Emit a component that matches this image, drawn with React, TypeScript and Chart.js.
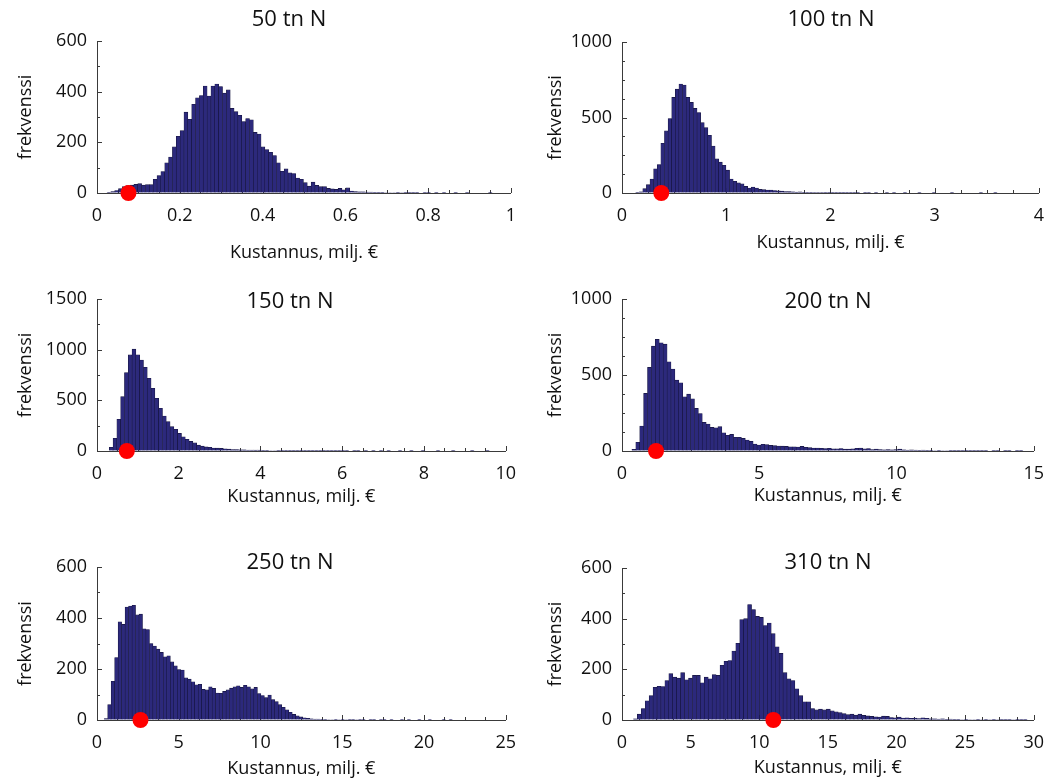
import React, { useEffect, useRef } from 'react';
import { Chart, registerables } from 'chart.js';

Chart.register(...registerables);

// ---------- data ----------
const panelTitles = ['50 tn N', '100 tn N', '150 tn N', '200 tn N', '250 tn N', '310 tn N'];
const xAxisLabel = 'Kustannus, milj. €';
const yAxisLabel = 'frekvenssi';

// histogram bins: first bin edge and bin width (100 bins each)
const binStarts = [0.024, 0.13, 0.30, 0.36, 0.44, 0.83];
const binWidths = [0.00931, 0.0347, 0.093, 0.1425, 0.213, 0.287];

const counts50 = [
  3, 6, 10, 17, 25, 29, 31, 34, 37, 31,
  33, 33, 54, 69, 85, 119, 142, 182, 224, 246,
  319, 291, 350, 376, 385, 422, 383, 422, 430, 420,
  394, 407, 334, 321, 307, 282, 294, 289, 239, 233,
  182, 171, 161, 148, 119, 86, 95, 80, 77, 59,
  54, 41, 27, 43, 30, 25, 25, 18, 16, 14,
  18, 13, 20, 8, 6, 5, 5, 4, 4, 3,
  3, 3, 2, 2, 2, 1, 2, 1, 1, 1,
  1, 0, 1, 1, 0, 1, 0, 1, 0, 0,
  1, 0, 0, 1, 0, 0, 0, 0, 0, 1,
];
const counts100 = [
  4, 8, 29, 55, 93, 160, 189, 329, 411, 493,
  633, 688, 722, 715, 633, 600, 560, 533, 466, 433,
  382, 311, 226, 204, 184, 151, 93, 78, 67, 60,
  44, 33, 40, 33, 24, 22, 20, 20, 16, 14,
  12, 10, 9, 8, 6, 7, 5, 4, 5, 3,
  3, 3, 2, 2, 2, 1, 2, 1, 1, 1,
  1, 1, 0, 1, 1, 0, 1, 0, 0, 1,
  0, 1, 0, 0, 1, 0, 0, 0, 1, 0,
  0, 0, 1, 0, 0, 0, 0, 1, 0, 0,
  0, 0, 0, 0, 0, 1, 0, 0, 0, 1,
];
const counts150 = [
  36, 125, 313, 536, 773, 948, 1005, 950, 898, 826,
  717, 619, 520, 421, 345, 290, 240, 214, 174, 140,
  115, 95, 80, 58, 48, 40, 36, 30, 28, 26,
  22, 18, 15, 14, 12, 12, 10, 9, 8, 8,
  7, 6, 5, 5, 4, 4, 3, 3, 3, 2,
  2, 3, 2, 2, 1, 2, 1, 1, 2, 1,
  1, 1, 1, 0, 1, 1, 0, 1, 0, 1,
  0, 1, 0, 1, 0, 0, 1, 0, 0, 1,
  0, 0, 1, 0, 0, 0, 1, 0, 0, 0,
  1, 0, 0, 0, 0, 1, 0, 0, 0, 1,
];
const counts200 = [
  11, 57, 164, 379, 550, 690, 734, 712, 703, 587,
  539, 466, 449, 357, 374, 344, 280, 247, 188, 177,
  155, 153, 160, 120, 103, 109, 90, 90, 83, 72,
  63, 46, 39, 44, 42, 37, 35, 33, 32, 30,
  28, 28, 26, 30, 24, 22, 20, 20, 18, 16,
  18, 14, 14, 16, 12, 12, 14, 18, 20, 14,
  16, 10, 12, 10, 8, 9, 8, 10, 12, 8,
  6, 7, 6, 5, 6, 4, 5, 3, 4, 3,
  3, 2, 2, 1, 2, 1, 1, 2, 1, 1,
  1, 0, 1, 1, 0, 1, 1, 0, 1, 1,
];
const counts250 = [
  6, 60, 152, 245, 385, 375, 443, 447, 450, 412,
  415, 358, 355, 300, 290, 278, 265, 248, 252, 228,
  212, 198, 196, 165, 160, 150, 138, 140, 120, 118,
  130, 124, 106, 105, 112, 118, 125, 130, 134, 128,
  136, 130, 122, 128, 104, 96, 88, 98, 80, 72,
  60, 50, 40, 30, 22, 16, 12, 9, 7, 5,
  4, 4, 3, 3, 2, 2, 3, 2, 1, 2,
  1, 1, 2, 1, 1, 0, 1, 1, 0, 1,
  1, 0, 1, 0, 0, 1, 0, 1, 0, 0,
  1, 0, 0, 1, 0, 0, 0, 1, 0, 1,
];
const counts310 = [
  5, 23, 45, 76, 96, 129, 133, 132, 156, 183,
  169, 165, 187, 159, 165, 176, 176, 147, 169, 163,
  179, 176, 216, 232, 235, 272, 303, 396, 400, 456,
  436, 409, 405, 373, 383, 341, 289, 263, 187, 163,
  156, 123, 96, 72, 72, 45, 40, 43, 40, 43,
  36, 32, 29, 25, 21, 23, 19, 23, 18, 16,
  14, 13, 12, 15, 14, 10, 9, 12, 8, 9,
  7, 8, 6, 9, 7, 5, 5, 4, 5, 3,
  4, 3, 3, 2, 3, 2, 2, 3, 2, 1,
  2, 1, 2, 1, 1, 1, 2, 1, 1, 1,
];
const allCounts = [counts50, counts100, counts150, counts200, counts250, counts310];

// red marker positions (x value, drawn at frequency 0)
const markerX = [0.076, 0.377, 0.73, 1.24, 2.66, 11.03];

// axis ranges and tick steps
const xMax = [1, 4, 10, 15, 25, 30];
const xMajor = [0.2, 1, 2, 5, 5, 5];
const yMax = [600, 1000, 1500, 1000, 600, 600];
const yMajor = [200, 500, 500, 500, 200, 200];
const yMinor = [100, 125, 250, 125, 100, 100];

// ---------- layout / style ----------
const FONT = "'Open Sans', 'DejaVu Sans', sans-serif";
const BAR_FILL = 'rgb(44,41,124)';
const BAR_EDGE = 'rgb(22,21,62)';
const AXIS_COLOR = '#3a3a3a';
const TEXT_COLOR = '#111';

type Geo = {
  left: number; top: number; w: number; h: number;
  padTop: number; padRight: number; yAxisW: number; xAxisH: number;
  xTitlePadBottom: number; yTitlePadTop: number;
  titleX: number; titleY: number;
};

const geos: Geo[] = [
  { left: 0, top: 0, w: 528, h: 270, padTop: 41, padRight: 11, yAxisW: 97, xAxisH: 77, xTitlePadBottom: 6, yTitlePadTop: 15, titleX: 289, titleY: 20 },
  { left: 528, top: 0, w: 528, h: 270, padTop: 42, padRight: 13, yAxisW: 94, xAxisH: 77, xTitlePadBottom: 16, yTitlePadTop: 17, titleX: 303, titleY: 20 },
  { left: 0, top: 270, w: 528, h: 260, padTop: 29, padRight: 11, yAxisW: 97, xAxisH: 79, xTitlePadBottom: 22, yTitlePadTop: 15, titleX: 290, titleY: 32 },
  { left: 528, top: 270, w: 528, h: 260, padTop: 29, padRight: 13, yAxisW: 94, xAxisH: 79, xTitlePadBottom: 23, yTitlePadTop: 17, titleX: 300, titleY: 32 },
  { left: 0, top: 530, w: 528, h: 251, padTop: 37, padRight: 11, yAxisW: 97, xAxisH: 61, xTitlePadBottom: 1, yTitlePadTop: 15, titleX: 290, titleY: 33 },
  { left: 528, top: 530, w: 528, h: 251, padTop: 38, padRight: 13, yAxisW: 94, xAxisH: 61, xTitlePadBottom: 2, yTitlePadTop: 17, titleX: 300, titleY: 33 },
];

const fmt = (v: number) => String(+(+v).toFixed(3));

const decoPlugin = {
  id: 'panelDeco',
  beforeDatasetsDraw(chart: any, _args: any, opts: any) {
    const { ctx, chartArea } = chart;
    const xs = chart.scales.x;
    const ys = chart.scales.y;
    ctx.save();
    ctx.strokeStyle = AXIS_COLOR;
    ctx.lineWidth = 1;
    const xMinor = opts.xMajor / 4;
    const nx = Math.round(opts.xMax / xMinor);
    for (let i = 0; i <= nx; i++) {
      const px = Math.round(xs.getPixelForValue(i * xMinor)) + 0.5;
      const len = i % 4 === 0 ? 5 : 3;
      ctx.beginPath();
      ctx.moveTo(px, chartArea.bottom);
      ctx.lineTo(px, chartArea.bottom - len);
      ctx.stroke();
    }
    const ny = Math.round(opts.yMax / opts.yMinor);
    const ratio = Math.round(opts.yMajor / opts.yMinor);
    for (let i = 0; i <= ny; i++) {
      const py = Math.round(ys.getPixelForValue(i * opts.yMinor)) + 0.5;
      const len = i % ratio === 0 ? 5 : 3;
      ctx.beginPath();
      ctx.moveTo(chartArea.left, py);
      ctx.lineTo(chartArea.left + len, py);
      ctx.stroke();
    }
    ctx.restore();
  },
  afterDraw(chart: any, _args: any, opts: any) {
    const { ctx } = chart;
    ctx.save();
    ctx.font = `22px ${FONT}`;
    ctx.fillStyle = TEXT_COLOR;
    ctx.textAlign = 'center';
    ctx.textBaseline = 'middle';
    ctx.fillText(opts.title, opts.titleX, opts.titleY);
    ctx.restore();
  },
};

function Panel({ idx }: { idx: number }) {
  const ref = useRef<HTMLCanvasElement>(null);
  const g = geos[idx];
  useEffect(() => {
    const counts = allCounts[idx];
    const start = binStarts[idx];
    const width = binWidths[idx];
    const bars = counts.map((c, i) => ({ x: start + (i + 0.5) * width, y: c }));
    const chart = new Chart(ref.current as HTMLCanvasElement, {
      type: 'bar',
      data: {
        datasets: [
          {
            type: 'scatter',
            data: [{ x: markerX[idx], y: 0 }],
            pointRadius: 8,
            pointHoverRadius: 8,
            pointBackgroundColor: 'rgb(255,0,0)',
            pointBorderWidth: 0,
            clip: false,
          } as any,
          {
            type: 'bar',
            data: bars,
            backgroundColor: BAR_FILL,
            borderColor: BAR_EDGE,
            borderWidth: 0.6,
            barPercentage: 1,
            categoryPercentage: 1,
          } as any,
        ],
      },
      options: {
        responsive: false,
        animation: false,
        events: [],
        layout: { padding: { top: g.padTop, right: g.padRight, bottom: 0, left: 0 } },
        plugins: {
          legend: { display: false },
          tooltip: { enabled: false },
          panelDeco: {
            title: panelTitles[idx], titleX: g.titleX, titleY: g.titleY,
            xMax: xMax[idx], xMajor: xMajor[idx],
            yMax: yMax[idx], yMajor: yMajor[idx], yMinor: yMinor[idx],
          },
        } as any,
        scales: {
          x: {
            type: 'linear',
            min: 0,
            max: xMax[idx],
            offset: false,
            grid: { display: true, drawOnChartArea: false, drawTicks: false },
            border: { display: true, color: AXIS_COLOR, width: 1 },
            ticks: {
              stepSize: xMajor[idx], autoSkip: false, maxRotation: 0, padding: 12,
              color: TEXT_COLOR, font: { family: FONT, size: 18 },
              callback: (v: any) => fmt(v),
            },
            title: {
              display: true, text: xAxisLabel, color: TEXT_COLOR,
              font: { family: FONT, size: 18 },
              padding: { top: 0, bottom: g.xTitlePadBottom },
            },
            afterFit: (s: any) => { s.height = g.xAxisH; },
          },
          y: {
            type: 'linear',
            min: 0,
            max: yMax[idx],
            grid: { display: true, drawOnChartArea: false, drawTicks: false },
            border: { display: true, color: AXIS_COLOR, width: 1 },
            ticks: {
              stepSize: yMajor[idx], padding: 10,
              color: TEXT_COLOR, font: { family: FONT, size: 18 },
              callback: (v: any) => fmt(v),
            },
            title: {
              display: true, text: yAxisLabel, color: TEXT_COLOR,
              font: { family: FONT, size: 18 },
              padding: { top: g.yTitlePadTop, bottom: 0 },
            },
            afterFit: (s: any) => { s.width = g.yAxisW; },
          },
        },
      } as any,
      plugins: [decoPlugin as any],
    });
    return () => chart.destroy();
  }, [idx]);
  return (
    <canvas
      ref={ref}
      width={g.w}
      height={g.h}
      style={{ position: 'absolute', left: g.left, top: g.top, width: g.w, height: g.h }}
    />
  );
}

export default function App() {
  return (
    <div style={{ position: 'absolute', left: 0, top: 0, width: 1056, height: 781, background: '#fff', overflow: 'hidden' }}>
      {[0, 1, 2, 3, 4, 5].map((i) => (
        <Panel key={i} idx={i} />
      ))}
    </div>
  );
}
